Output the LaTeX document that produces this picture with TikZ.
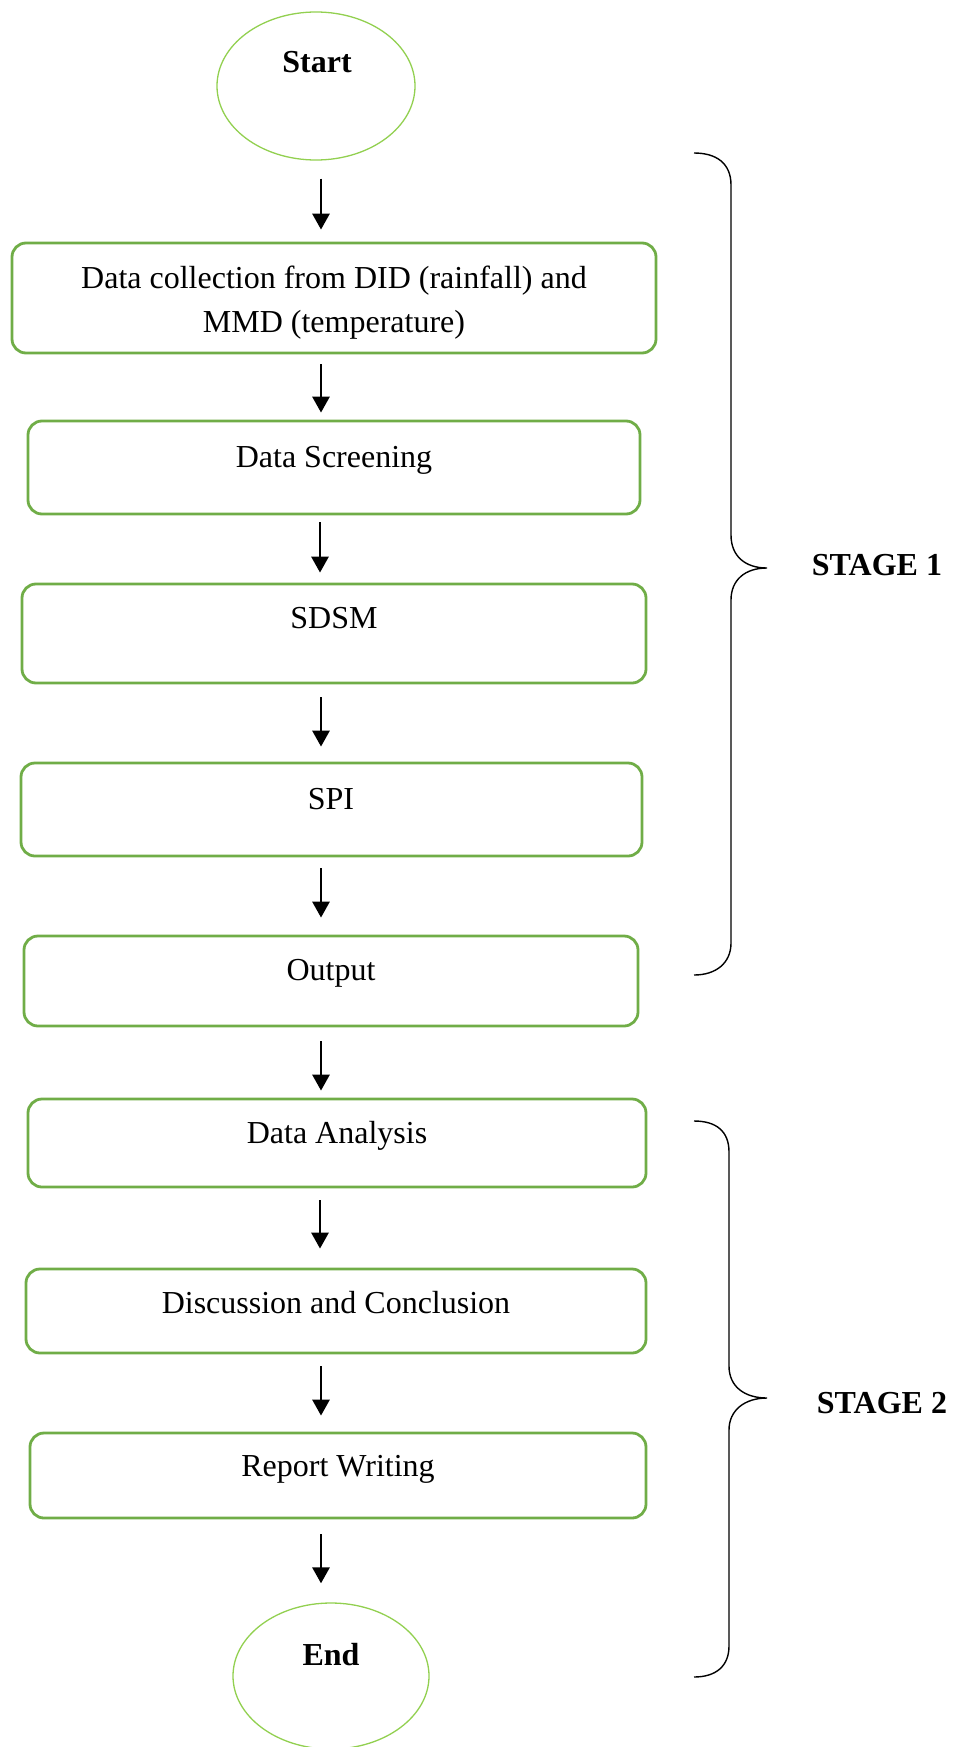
\documentclass[tikz,border=0pt]{standalone}
\usepackage{fontspec}
\setmainfont{Liberation Serif}
\usetikzlibrary{arrows.meta,shapes.geometric}
\definecolor{boxgreen}{HTML}{70AD47}
\definecolor{ellgreen}{HTML}{92D050}
\begin{document}
\begin{tikzpicture}[x=1pt,y=-1pt,
  stepbox/.style={draw=boxgreen, line width=2.8pt, rounded corners=14pt, rectangle, inner sep=0pt},
  term/.style={draw=ellgreen, line width=1.3pt, ellipse, inner sep=0pt},
  lbl/.style={font=\fontsize{32}{42}\selectfont, anchor=base, inner sep=0pt},
  blbl/.style={font=\fontsize{32}{42}\selectfont\bfseries, anchor=base, inner sep=0pt},
  arr/.style={-{Triangle[width=17pt,length=16pt]}, line width=2.9pt},
  bracepath/.style={line width=1.4pt}]
\useasboundingbox (0,0) rectangle (966,1747);
% terminals
\node[term, minimum width=198pt, minimum height=148pt] (s) at (316,86) {};
\node[blbl] (ts) at (317,73) {Start};
\node[term, minimum width=196pt, minimum height=146pt] (e) at (331,1676) {};
\node[blbl] (te) at (331,1665) {End};
% boxes
\node[stepbox, minimum width=644pt, minimum height=110pt] (b1) at (334,298) {};
\node[lbl] (t1a) at (334,288) {Data collection from DID (rainfall) and};
\node[lbl] (t1b) at (334,332) {MMD (temperature)};
\node[stepbox, minimum width=612pt, minimum height=93pt] (b2) at (334,467.5) {};
\node[lbl] (t2) at (334,467) {Data Screening};
\node[stepbox, minimum width=624pt, minimum height=99pt] (b3) at (334,633.5) {};
\node[lbl] (t3) at (334,628) {SDSM};
\node[stepbox, minimum width=621pt, minimum height=93pt] (b4) at (331.5,809.5) {};
\node[lbl] (t4) at (331,809) {SPI};
\node[stepbox, minimum width=614pt, minimum height=90pt] (b5) at (331,981) {};
\node[lbl] (t5) at (331,980) {Output};
\node[stepbox, minimum width=618pt, minimum height=88pt] (b6) at (337,1143) {};
\node[lbl] (t6) at (337,1143) {Data Analysis};
\node[stepbox, minimum width=620pt, minimum height=84pt] (b7) at (336,1311) {};
\node[lbl] (t7) at (336,1313) {Discussion and Conclusion};
\node[stepbox, minimum width=616pt, minimum height=85pt] (b8) at (338,1475.5) {};
\node[lbl] (t8) at (338,1476) {Report Writing};
% arrows
\coordinate (ax) at (321,0);
\coordinate (bx) at (320,0);
\draw[arr, shorten <=18pt, shorten >=12pt] (s.south -| ax) -- (b1.north -| ax);
\draw[arr, shorten <=10pt, shorten >=7pt] (b1.south -| ax) -- (b2.north -| ax);
\draw[arr, shorten <=7pt, shorten >=10pt] (b2.south -| bx) -- (b3.north -| bx);
\draw[arr, shorten <=13pt, shorten >=15pt] (b3.south -| ax) -- (b4.north -| ax);
\draw[arr, shorten <=11pt, shorten >=17pt] (b4.south -| ax) -- (b5.north -| ax);
\draw[arr, shorten <=14pt, shorten >=7pt] (b5.south -| ax) -- (b6.north -| ax);
\draw[arr, shorten <=12pt, shorten >=19pt] (b6.south -| bx) -- (b7.north -| bx);
\draw[arr, shorten <=12pt, shorten >=16pt] (b7.south -| ax) -- (b8.north -| ax);
\draw[arr, shorten <=15pt, shorten >=19pt] (b8.south -| ax) -- (e.north -| ax);
% braces
\draw[bracepath] (694,153) .. controls (716,153) and (731,163) .. (731,185) -- (731,535)
  .. controls (731,556) and (745,568) .. (767,568)
  .. controls (745,568) and (731,580) .. (731,600) -- (731,943)
  .. controls (731,963) and (716,975) .. (694,975);
\node[blbl] (st1) at (877,575) {STAGE 1};
\draw[bracepath] (694,1121) .. controls (716,1121) and (729,1131) .. (729,1152) -- (729,1366)
  .. controls (729,1387) and (745,1398) .. (767,1398)
  .. controls (745,1398) and (729,1410) .. (729,1430) -- (729,1646)
  .. controls (729,1666) and (716,1677) .. (694,1677);
\node[blbl] (st2) at (882,1413) {STAGE 2};
\end{tikzpicture}
\end{document}
